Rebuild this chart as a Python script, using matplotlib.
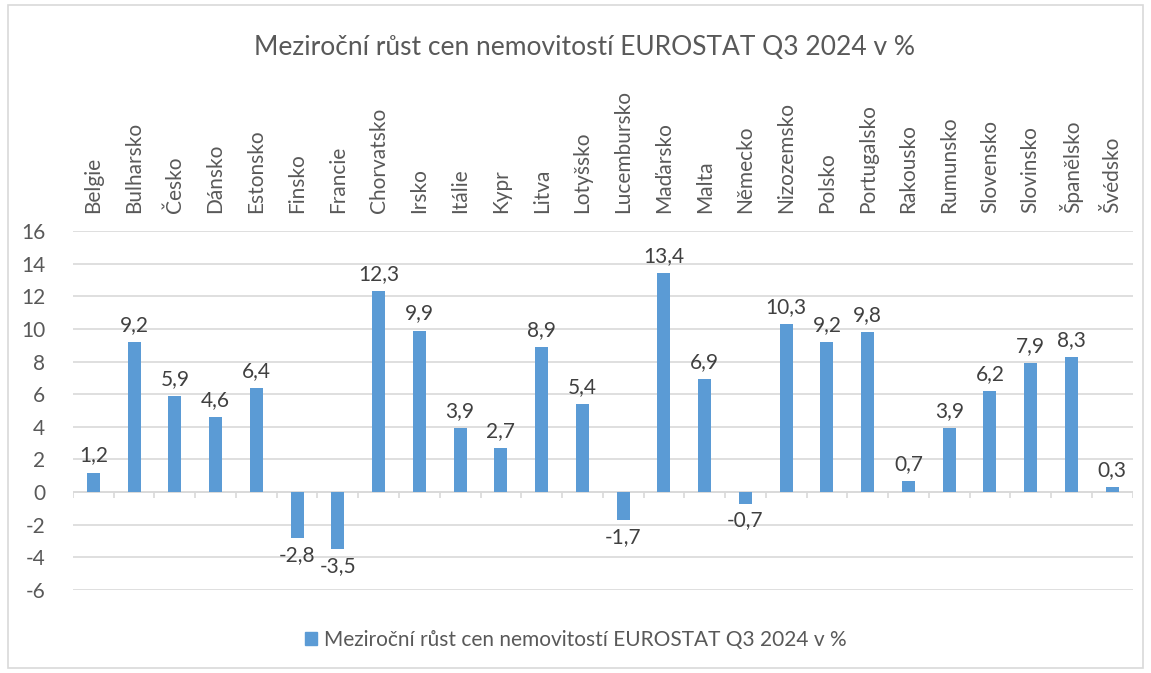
import numpy as np
import matplotlib
matplotlib.use("Agg")
import matplotlib.pyplot as plt
from matplotlib.patches import Rectangle

# data
countries = ["Belgie", "Bulharsko", "Česko", "Dánsko", "Estonsko", "Finsko", "Francie",
             "Chorvatsko", "Irsko", "Itálie", "Kypr", "Litva", "Lotyšsko", "Lucembursko",
             "Maďarsko", "Malta", "Německo", "Nizozemsko", "Polsko", "Portugalsko",
             "Rakousko", "Rumunsko", "Slovensko", "Slovinsko", "Španělsko", "Švédsko"]
growth = [1.2, 9.2, 5.9, 4.6, 6.4, -2.8, -3.5, 12.3, 9.9, 3.9, 2.7, 8.9, 5.4, -1.7,
          13.4, 6.9, -0.7, 10.3, 9.2, 9.8, 0.7, 3.9, 6.2, 7.9, 8.3, 0.3]
yticks = [-6, -4, -2, 0, 2, 4, 6, 8, 10, 12, 14, 16]
title = "Meziroční růst cen nemovitostí EUROSTAT Q3 2024 v %"

plt.rcParams['font.family'] = ['Lato', 'DejaVu Sans']
txt = '#595959'
grid = '#d9d9d9'
bar_color = '#5B9BD5'
fs = 15

fig = plt.figure(figsize=(11.51, 6.73), dpi=100)
fig.patches.append(Rectangle((0.007, 0.007), 0.986, 0.986, transform=fig.transFigure,
                             fill=False, edgecolor=grid, lw=1.2))
ax = fig.add_axes([0.0634, 0.1233, 0.9206, 0.5335])

x = np.arange(len(countries))
ax.bar(x, growth, width=0.32, color=bar_color, zorder=3)

for xi, v in zip(x, growth):
    lab = f"{v:.1f}".replace('.', ',')
    if v >= 0:
        ax.annotate(lab, (xi, v), xytext=(0, 5), textcoords='offset points',
                    ha='center', va='bottom', fontsize=fs, color='#404040')
    else:
        ax.annotate(lab, (xi, v), xytext=(0, -5), textcoords='offset points',
                    ha='center', va='top', fontsize=fs, color='#404040')

ax.set_xlim(-0.5, len(countries) - 0.5)
ax.set_ylim(-6, 16)
ax.set_yticks(yticks)
ax.set_yticklabels([str(t) for t in yticks], fontsize=fs, color=txt)
ax.tick_params(axis='y', length=0, pad=20)

ax.xaxis.tick_top()
ax.set_xticks(x)
ax.set_xticklabels(countries, rotation=90, fontsize=fs, color=txt)
ax.tick_params(axis='x', length=0, pad=13)

ax.grid(axis='y', color=grid, lw=1.2, zorder=0)
for s in ax.spines.values():
    s.set_visible(False)
ax.axhline(0, color=grid, lw=1.2, zorder=2)
ax.vlines(np.arange(len(countries) + 1) - 0.5, -0.37, 0, color=grid, lw=1.2, zorder=2)

fig.text(0.508, 0.93, title, ha='center', va='center', fontsize=19, color=txt)

h = Rectangle((0, 0), 1, 1, color=bar_color)
fig.legend([h], [title], loc='center', bbox_to_anchor=(0.5, 0.049), frameon=False,
           fontsize=fs, labelcolor=txt, handlelength=0.6, handleheight=0.6,
           handletextpad=0.3)

fig.savefig("out.png", dpi=100)
